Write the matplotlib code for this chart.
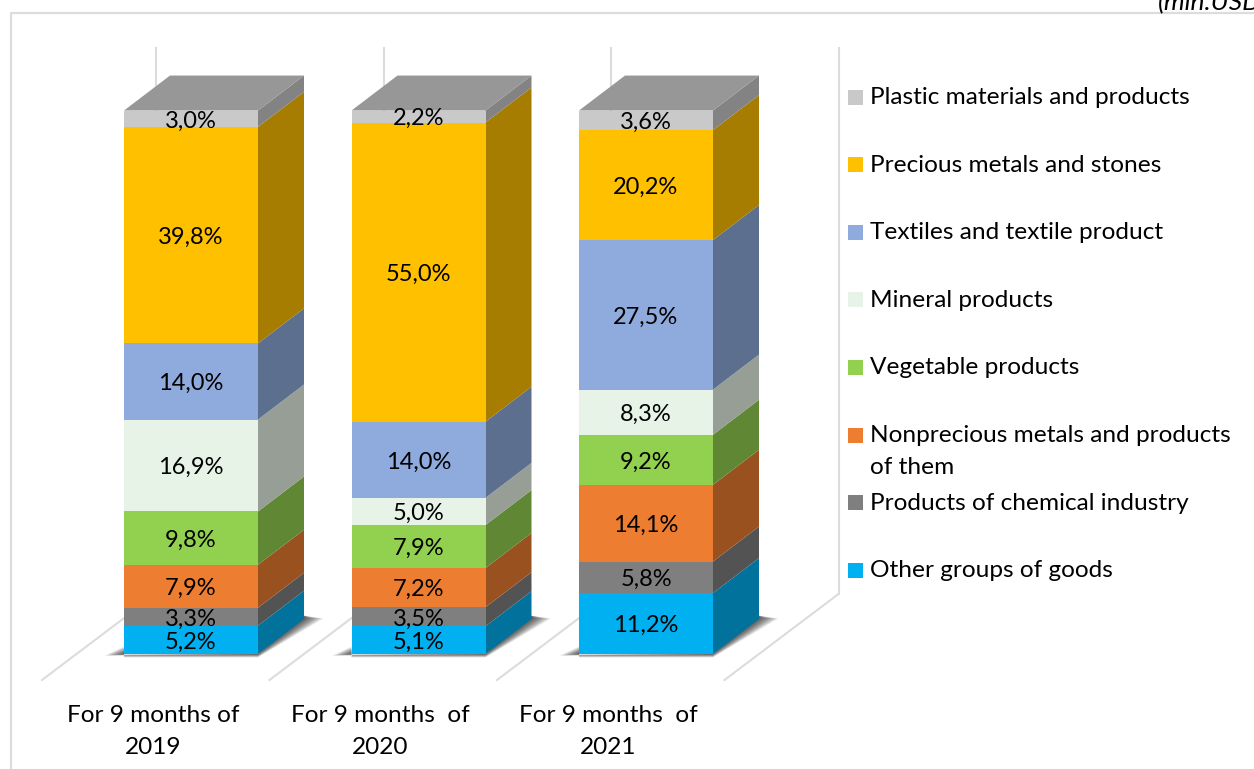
import numpy as np
import matplotlib
matplotlib.use('Agg')
from matplotlib import pyplot as plt
from matplotlib.patches import Rectangle, Polygon

plt.rcParams['font.family'] = ['Lato', 'DejaVu Sans']

# ~~~~~~~~~~~~~~~~~~~~~~ data ~~~~~~~~~~~~~~~~~~~~~
categories = ['For 9 months of\n2019', 'For 9 months  of\n2020', 'For 9 months  of\n2021']
groups = ['Other groups of goods', 'Products of chemical industry',
          'Nonprecious metals and products\nof them', 'Vegetable products',
          'Mineral products', 'Textiles and textile product',
          'Precious metals and stones', 'Plastic materials and products']
other = [5.2, 5.1, 11.2]
chemical = [3.3, 3.5, 5.8]
nonprecious = [7.9, 7.2, 14.1]
vegetable = [9.8, 7.9, 9.2]
mineral = [16.9, 5.0, 8.3]
textiles = [14.0, 14.0, 27.5]
precious = [39.8, 55.0, 20.2]
plastic = [3.0, 2.2, 3.6]
colors = ['#00b0f0', '#7f7f7f', '#ed7d31', '#92d050', '#e6f3e6', '#8faadc', '#ffc000', '#c9c9c9']
unit_note = '(mln.USD)'

series = [other, chemical, nonprecious, vegetable, mineral, textiles, precious, plastic]

# ~~~~~~~~~~~~~~~~~~~~~~ layout ~~~~~~~~~~~~~~~~~~~~~
W, H = 1254, 769
font_size = 17.6
label_size = 17
grid_col = '#dcdcdc'
step = 227.5      # px between categories
px_pct = 5.44     # px per percent
x0, y0 = 191, 654 # pixel of first bar centre / baseline
bar_w = 134 / step
dep_x = 46 / step
dep_y = 35 / px_pct

def shade(col, k):
    return tuple(k * c for c in matplotlib.colors.to_rgb(col))

fig = plt.figure(figsize=(W / 100, H / 100), dpi=100, facecolor='white')

# pixel overlay for frame, legend and side note
bg = fig.add_axes([0, 0, 1, 1], zorder=0)
bg.set_xlim(0, W)
bg.set_ylim(H, 0)
bg.axis('off')
bg.plot([11, 11, W], [H, 12.5, 12.5], color=grid_col, lw=1.6, clip_on=False)
bg.text(1158, 3, unit_note, style='italic', fontsize=19, ha='left', va='center', color='black')

# category / percent axes for the bars
ax = fig.add_axes([0, 0, 1, 1], zorder=1)
ax.patch.set_alpha(0)
ax.set_xlim(-x0 / step, (W - x0) / step)
ax.set_ylim((y0 - H) / px_pct, y0 / px_pct)
ax.axis('off')

# back wall and floor lines
for b in range(len(categories) + 1):
    xw = b + (156 - x0) / step
    ax.plot([xw, xw], [(654 - 594) / px_pct, (654 - 48) / px_pct], color=grid_col, lw=1.5, zorder=1)
    ax.plot([xw - 114 / step, xw], [(654 - 680) / px_pct, (654 - 594) / px_pct], color=grid_col, lw=1.5, zorder=1)

# bars with faked depth
for i in range(len(categories)):
    left, right = i - bar_w / 2, i + bar_w / 2
    # soft shadow on the floor
    for grow in np.linspace(1, 0.05, 24):
        sx = 20 * grow / step
        sy = 3.5 * grow / px_pct
        ax.add_patch(Polygon([(left - sx, -0.5 * sy), (left, 1.4 * grow), (left, -sy), (right, -sy),
                              (right + dep_x + sx, dep_y + 0.1), (right + dep_x, dep_y + 0.6), (right, 0)],
                             closed=True, fc='black', ec='none', alpha=0.035, zorder=2))
    bottom = 0
    for vals, col in zip(series, colors):
        v = vals[i]
        ax.bar(i, v, width=bar_w, bottom=bottom, color=col, zorder=4)
        ax.add_patch(Polygon([(right, bottom), (right + dep_x, bottom + dep_y),
                              (right + dep_x, bottom + v + dep_y), (right, bottom + v)],
                             closed=True, fc=shade(col, 0.65), ec='none', zorder=3))
        ax.text(i, bottom + v / 2 - 2.2 / px_pct, ('%.1f%%' % v).replace('.', ','), ha='center', va='center',
                fontsize=label_size, color='black', zorder=5)
        bottom += v
    # top face takes the colour of the last segment
    ax.add_patch(Polygon([(left, bottom), (left + dep_x, bottom + dep_y),
                          (right + dep_x, bottom + dep_y), (right, bottom)],
                         closed=True, fc=shade(colors[-1], 0.75), ec='none', zorder=3))
    first, second = categories[i].split('\n')
    ax.text(i - 38 / step, (654 - 715) / px_pct, first, ha='center', va='center', fontsize=font_size, color='black')
    ax.text(i - 38 / step, (654 - 747) / px_pct, second, ha='center', va='center', fontsize=font_size, color='black')

# legend, top entry first, evenly spaced like the original
for n, (name, col) in enumerate(zip(groups[::-1], colors[::-1])):
    yy = 97 + n * 67.6
    bg.add_patch(Rectangle((848, yy - 7.5), 15, 15, fc=col, ec='none'))
    for k, line in enumerate(name.split('\n')):
        bg.text(870, yy + 0.5 + k * 32, line, fontsize=font_size, ha='left', va='center', color='black')

fig.savefig('out.png', dpi=100)
